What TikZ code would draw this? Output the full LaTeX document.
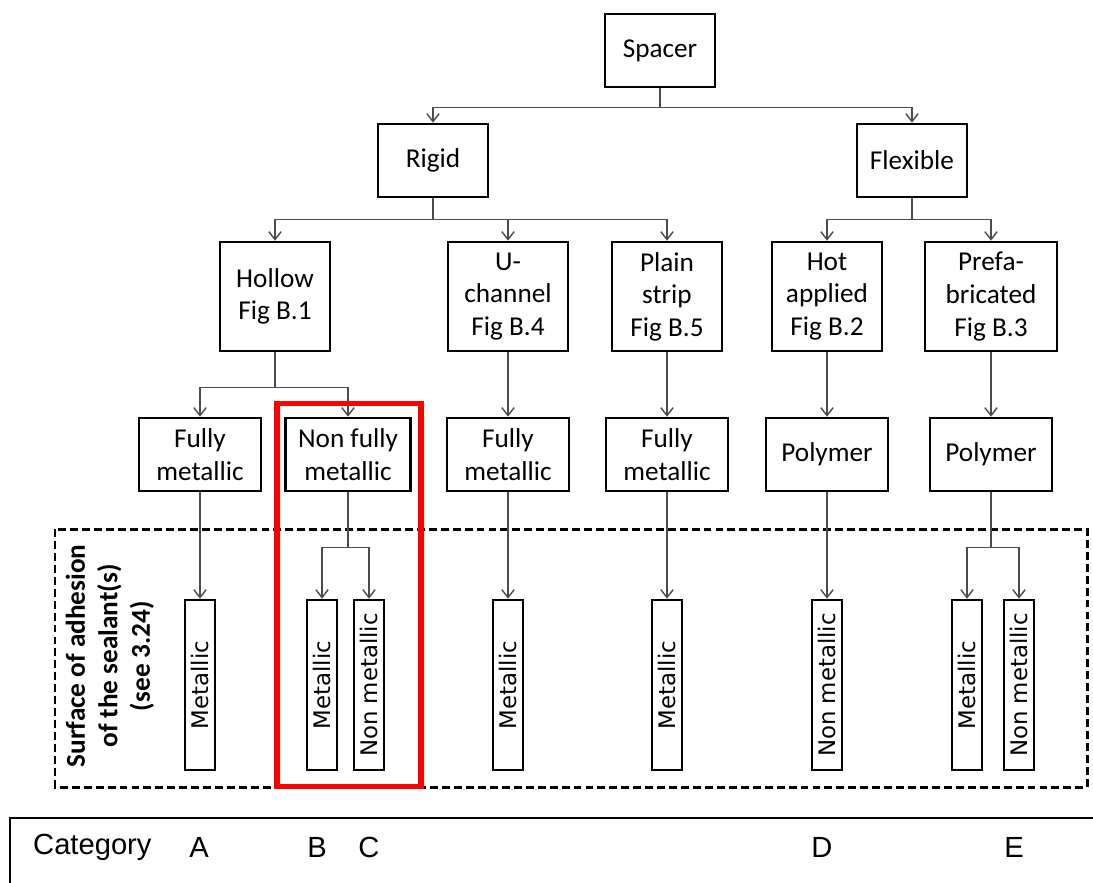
\documentclass[tikz,border=0pt]{standalone}
\usepackage{fontspec}
\setmainfont{Carlito}
\newfontfamily\surffont{DejaVu Sans}
\newfontfamily\catfont{Liberation Sans}
\usetikzlibrary{arrows.meta}
\definecolor{linkgray}{gray}{0.3}
\tikzset{
  box/.style={draw, line width=1.5pt, align=center, inner sep=0pt,
    font=\fontsize{15.5}{18.5}\selectfont},
  toplevel/.style={box, minimum width=2.2cm, minimum height=1.46cm},
  kind/.style={box, minimum width=2.2cm, minimum height=2.18cm},
  core/.style={box, minimum width=2.44cm, minimum height=1.46cm},
  surf/.style={draw, line width=1.5pt, rotate=90, inner sep=0pt,
    minimum width=3.4cm, minimum height=0.6cm,
    font=\surffont\fontsize{13}{15}\selectfont},
  link/.style={draw=linkgray, line width=0.8pt},
  >={Straight Barb[length=4.5pt,width=7pt]},
}
\begin{document}
\begin{tikzpicture}[x=0.02cm,y=-0.02cm]
\useasboundingbox (0,0) rectangle (1093,883);

% frame of the surfaces
\draw[line width=1.7pt, dash pattern=on 4.5pt off 2.3pt] (55,529) rectangle (1087,787);

% tree
\node[toplevel] (spacer) at (660,50.5) {Spacer};
\node[toplevel] (rigid) at (433,160.5) {Rigid};
\node[toplevel] (flexible) at (912,160.5) {Flexible};

\node[kind] (hollow) at (275,296.5) {Hollow\\Fig B.1};
\node[kind, minimum width=2.4cm] (uchan) at (508,296.5) {U-\\channel\\Fig B.4};
\node[kind] (plain) at (667,296.5) {Plain\\strip\\Fig B.5};
\node[kind] (hot) at (827,296.5) {Hot\\applied\\Fig B.2};
\node[kind, minimum width=2.64cm] (prefab) at (991,296.5) {Prefa-\\bricated\\Fig B.3};

\node[core] (fm1) at (200,454.5) {Fully\\metallic};
\node[core, minimum width=2.5cm] (nfm) at (348,454.5) {Non fully\\metallic};
\node[core] (fm2) at (508,454.5) {Fully\\metallic};
\node[core] (fm3) at (667,454.5) {Fully\\metallic};
\node[core] (poly1) at (827,454.5) {Polymer};
\node[core] (poly2) at (991,454.5) {Polymer};

\node[surf] (s1) at (200,685) {Metallic};
\node[surf] (s2) at (322,685) {Metallic};
\node[surf] (s3) at (369,685) {Non metallic};
\node[surf] (s4) at (508,685) {Metallic};
\node[surf] (s5) at (667,685) {Metallic};
\node[surf] (s6) at (827,685) {Non metallic};
\node[surf] (s7) at (967,685) {Metallic};
\node[surf] (s8) at (1019,685) {Non metallic};

\node[rotate=90, align=center, font=\bfseries\fontsize{15.5}{18.5}\selectfont] (surflabel) at (110,656)
  {Surface of adhesion\\of the sealant(s)\\(see 3.24)};

% connectors
\draw[link] (spacer.south) -- ++(0,19) coordinate (j0);
\draw[link,->] (j0) -| (rigid.north);
\draw[link,->] (j0) -| (flexible.north);

\draw[link] (rigid.south) -- ++(0,21) coordinate (j1);
\foreach \n in {hollow,uchan,plain}
  \draw[link,->] (j1) -| (\n.north);
\draw[link] (flexible.south) -- ++(0,21) coordinate (j2);
\foreach \n in {hot,prefab}
  \draw[link,->] (j2) -| (\n.north);

\draw[link] (hollow.south) -- ++(0,35) coordinate (j3);
\foreach \n in {fm1,nfm}
  \draw[link,->] (j3) -| (\n.north);
\draw[link,->] (uchan) -- (fm2);
\draw[link,->] (plain) -- (fm3);
\draw[link,->] (hot) -- (poly1);
\draw[link,->] (prefab) -- (poly2);

\draw[link,->] (fm1) -- (s1.east);
\draw[link] (nfm.south) -- ++(0,55) coordinate (j4);
\foreach \n in {s2,s3}
  \draw[link,->] (j4) -| (\n.east);
\draw[link,->] (fm2) -- (s4.east);
\draw[link,->] (fm3) -- (s5.east);
\draw[link,->] (poly1) -- (s6.east);
\draw[link] (poly2.south) -- ++(0,55) coordinate (j5);
\foreach \n in {s7,s8}
  \draw[link,->] (j5) -| (\n.east);

% highlight
\draw[red, line width=2.85pt] (277,403) rectangle (421,786);

% categories
\draw[line width=1.1pt] (1100,818) -- (10,818) -- (10,890);
\begin{scope}[every node/.style={font=\catfont\fontsize{16.6}{19}\selectfont}]
\node[anchor=west] (cat) at (27,847) {Category};
\node (ca) at (199,847) {A};
\node (cb) at (317,847) {B};
\node (cc) at (369,847) {C};
\node (cd) at (822,847) {D};
\node (ce) at (1014,847) {E};
\end{scope}
\end{tikzpicture}
\end{document}
